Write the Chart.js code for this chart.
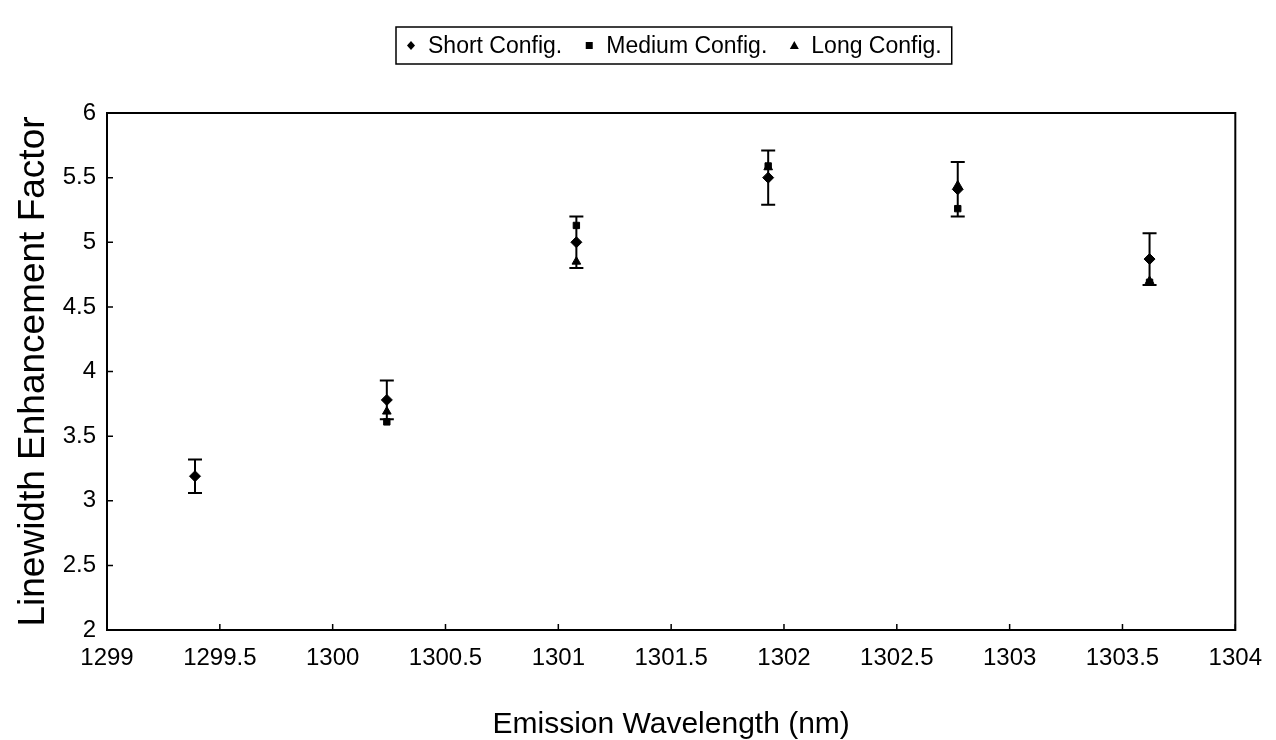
<!DOCTYPE html>
<html>
<head>
<meta charset="utf-8">
<script src="https://cdn.jsdelivr.net/npm/chart.js@4.4.1/dist/chart.umd.min.js"></script>
<style>
  html, body { margin: 0; padding: 0; background: #ffffff; }
  #wrap { width: 1276px; height: 740px; }
</style>
</head>
<body>
<div id="wrap"><canvas id="c" width="1276" height="740"></canvas></div>
<script>
// Emission wavelength (nm) of each measurement
const wavelengths = [1299.39, 1300.24, 1301.08, 1301.93, 1302.77, 1303.62];
// Linewidth enhancement factor for each cavity configuration
const shortConfig = [3.19, 3.78, 5.00, 5.50, 5.41, 4.87];
const shortConfigErr = [0.13, 0.15, 0.20, 0.21, 0.21, 0.20];
const mediumConfig = [null, 3.61, 5.13, 5.59, 5.26, 4.69];
const longConfig = [null, 3.69, 4.85, 5.58, 5.44, 4.70];
const seriesNames = ['Short Config.', 'Medium Config.', 'Long Config.'];
const seriesShapes = ['rectRot', 'rect', 'triangle'];
// Axis tick labels
const xTickLabels = ['1299', '1299.5', '1300', '1300.5', '1301', '1301.5', '1302', '1302.5', '1303', '1303.5', '1304'];
const yTickLabels = ['2', '2.5', '3', '3.5', '4', '4.5', '5', '5.5', '6'];

const FONT = '"Liberation Sans", Arial, sans-serif';

function toPoints(values) {
  return wavelengths.map((w, i) => ({ x: w, y: values[i] }));
}

// Frame, inward tick marks, error bars and the boxed legend
const decor = {
  id: 'decor',
  beforeDatasetsDraw(chart) {
    const { ctx, scales: { x, y } } = chart;
    ctx.save();
    ctx.strokeStyle = '#000';
    ctx.lineWidth = 2;
    wavelengths.forEach((w, i) => {
      const px = x.getPixelForValue(w);
      const top = y.getPixelForValue(shortConfig[i] + shortConfigErr[i]);
      const bot = y.getPixelForValue(shortConfig[i] - shortConfigErr[i]);
      ctx.beginPath();
      ctx.moveTo(px, top); ctx.lineTo(px, bot);
      ctx.moveTo(px - 7, top); ctx.lineTo(px + 7, top);
      ctx.moveTo(px - 7, bot); ctx.lineTo(px + 7, bot);
      ctx.stroke();
    });
    ctx.restore();
  },
  afterDraw(chart) {
    const { ctx, chartArea: a, scales: { x, y } } = chart;
    ctx.save();
    ctx.strokeStyle = '#000';
    ctx.lineWidth = 2;
    ctx.strokeRect(a.left, a.top, a.right - a.left, a.bottom - a.top);
    ctx.beginPath();
    x.ticks.forEach(t => {
      const px = x.getPixelForValue(t.value);
      ctx.moveTo(px, a.bottom); ctx.lineTo(px, a.bottom - 6);
    });
    y.ticks.forEach(t => {
      const py = y.getPixelForValue(t.value);
      ctx.moveTo(a.left, py); ctx.lineTo(a.left + 6, py);
    });
    ctx.lineWidth = 1.5;
    ctx.stroke();

    // legend
    ctx.font = '23px ' + FONT;
    ctx.textBaseline = 'middle';
    ctx.textAlign = 'left';
    const sym = 10, gapSym = 12, gapItem = 22, padX = 10;
    const widths = seriesNames.map(n => sym + gapSym + ctx.measureText(n).width);
    const total = widths.reduce((s, v) => s + v, 0) + gapItem * (widths.length - 1);
    const boxW = total + padX * 2;
    const boxL = 396;
    const boxT = 27, boxH = 37;
    const midY = boxT + boxH / 2;
    ctx.lineWidth = 1.5;
    ctx.strokeRect(boxL, boxT, boxW, boxH);
    let cur = boxL + padX;
    seriesNames.forEach((n, i) => {
      const sx = cur + sym / 2;
      ctx.fillStyle = '#000';
      ctx.beginPath();
      if (seriesShapes[i] === 'rectRot') {
        ctx.moveTo(sx, midY - 4.5); ctx.lineTo(sx + 4, midY); ctx.lineTo(sx, midY + 4.5); ctx.lineTo(sx - 4, midY);
      } else if (seriesShapes[i] === 'rect') {
        ctx.rect(sx - 3.5, midY - 3.5, 7, 7);
      } else {
        ctx.moveTo(sx, midY - 4.5); ctx.lineTo(sx + 4.5, midY + 3.5); ctx.lineTo(sx - 4.5, midY + 3.5);
      }
      ctx.closePath();
      ctx.fill();
      ctx.fillText(n, cur + sym + gapSym, midY + 1);
      cur += widths[i] + gapItem;
    });
    ctx.restore();
  }
};

new Chart(document.getElementById('c'), {
  type: 'scatter',
  data: {
    datasets: [
      { label: seriesNames[0], data: toPoints(shortConfig), pointStyle: seriesShapes[0], pointRadius: 5.5 },
      { label: seriesNames[1], data: toPoints(mediumConfig), pointStyle: seriesShapes[1], pointRadius: 4.5 },
      { label: seriesNames[2], data: toPoints(longConfig), pointStyle: seriesShapes[2], pointRadius: 5 }
    ].map(d => Object.assign(d, {
      backgroundColor: '#000', borderColor: '#000', borderWidth: 1, showLine: false, pointHoverRadius: d.pointRadius
    }))
  },
  options: {
    responsive: false,
    animation: false,
    devicePixelRatio: 1,
    layout: { padding: { top: 113, right: 34, bottom: 0, left: 0 } },
    plugins: { legend: { display: false }, tooltip: { enabled: false } },
    scales: {
      x: {
        type: 'linear', min: 1299, max: 1304,
        grid: { display: false, drawTicks: false },
        border: { display: false },
        ticks: {
          stepSize: 0.5, padding: 14, color: '#000', maxRotation: 0, autoSkip: false,
          font: { family: FONT, size: 24 },
          callback: (v, i) => xTickLabels[i]
        },
        title: {
          display: true, text: 'Emission Wavelength (nm)', color: '#000',
          font: { family: FONT, size: 30, lineHeight: 1 }, padding: { top: 7, bottom: 0 }
        },
        afterFit(scale) { scale.height = 110; }
      },
      y: {
        type: 'linear', min: 2, max: 6,
        grid: { display: false, drawTicks: false },
        border: { display: false },
        ticks: {
          stepSize: 0.5, padding: 11, color: '#000',
          font: { family: FONT, size: 24 },
          callback: (v, i) => yTickLabels[i]
        },
        title: {
          display: true, text: 'Linewidth Enhancement Factor', color: '#000',
          font: { family: FONT, size: 37, lineHeight: 1 }, padding: { top: 15, bottom: 0 }
        },
        afterFit(scale) { scale.width = 107; }
      }
    }
  },
  plugins: [decor]
});
</script>
</body>
</html>
